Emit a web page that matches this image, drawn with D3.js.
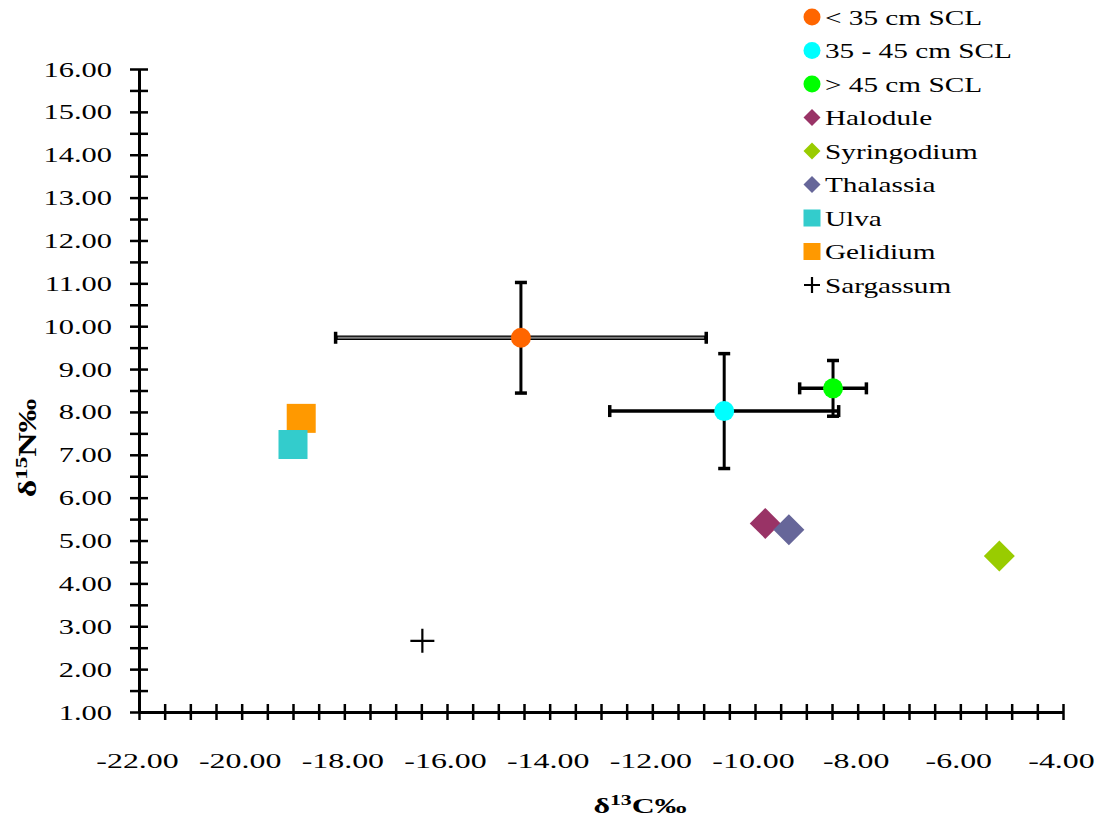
<!DOCTYPE html>
<html>
<head>
<meta charset="utf-8">
<script src="https://cdn.jsdelivr.net/npm/d3@7"></script>
<style>
  body { margin: 0; background: #fff; }
  svg { display: block; }
</style>
</head>
<body>
<svg id="chart" width="1101" height="824"></svg>
<script>
// Stable isotope values (δ13C, δ15N) for turtle size classes and food items
const seriesNames = ["< 35 cm SCL", "35 - 45 cm SCL", "> 45 cm SCL", "Halodule", "Syringodium", "Thalassia", "Ulva", "Gelidium", "Sargassum"];
const carbon   = [-14.56, -10.60, -8.48, -9.80, -5.24, -9.34, -19.00, -18.84, -16.48];
const nitrogen = [9.73, 8.02, 8.55, 5.40, 4.64, 5.25, 7.24, 7.85, 2.66];
const carbonSD   = [3.61, 2.23, 0.65, null, null, null, null, null, null];
const nitrogenSD = [1.29, 1.34, 0.65, null, null, null, null, null, null];
const markerShape = ["circle", "circle", "circle", "diamond", "diamond", "diamond", "square", "square", "plus"];
const markerColor = ["#FF6600", "#00FFFF", "#00FF00", "#993366", "#99CC00", "#666699", "#33CCCC", "#FF9900", "#000000"];
// Draw order: Gelidium sits under Ulva
const drawOrder = [0, 1, 2, 3, 5, 4, 7, 6, 8];

const xDomain = [-22, -4];
const yDomain = [1, 16];
const xLabelStep = 2;
const yLabelStep = 1;
const minorStep = 0.5;

const FONT = "'Liberation Serif', 'Times New Roman', Times, serif";
const svg = d3.select("#chart").attr("font-family", FONT);
const SX = 1.45; // horizontal stretch of the serif type

const x = d3.scaleLinear().domain(xDomain).range([139, 1063]);
const y = d3.scaleLinear().domain(yDomain).range([712, 69]);

const fmt = d => d.toFixed(2);

// X axis
const xTicks = d3.range(xDomain[0], xDomain[1] + 0.001, minorStep);
const xAxis = svg.append("g").attr("transform", `translate(0,${y(yDomain[0])})`)
  .call(d3.axisBottom(x).tickValues(xTicks).tickSizeOuter(0)
    .tickFormat(d => Math.abs(Math.round(d / xLabelStep) * xLabelStep - d) < 1e-9 ? fmt(d) : ""));
xAxis.attr("font-family", FONT);
xAxis.select(".domain").attr("stroke", "#000").attr("stroke-width", 3);
xAxis.selectAll(".tick line").attr("y1", -8).attr("y2", 8).attr("stroke", "#000").attr("stroke-width", 2.5);
xAxis.selectAll(".tick text").attr("y", 0).attr("dy", 0)
  .attr("transform", `translate(-2,56) scale(${SX},1)`)
  .style("font-family", FONT).style("font-size", "22px").attr("fill", "#000");

// Y axis
const yTicks = d3.range(yDomain[0], yDomain[1] + 0.001, minorStep);
const yAxis = svg.append("g").attr("transform", `translate(${x(xDomain[0])},0)`)
  .call(d3.axisLeft(y).tickValues(yTicks).tickSizeOuter(0)
    .tickFormat(d => Math.abs(Math.round(d / yLabelStep) * yLabelStep - d) < 1e-9 ? fmt(d) : ""));
yAxis.attr("font-family", FONT);
yAxis.select(".domain").attr("stroke", "#000").attr("stroke-width", 3);
yAxis.selectAll(".tick line").attr("x1", -9).attr("x2", 9).attr("stroke", "#000").attr("stroke-width", 2.5);
yAxis.selectAll(".tick text").attr("x", 0).attr("dy", 0)
  .attr("transform", `translate(-27,7) scale(${SX},1)`)
  .style("font-family", FONT).style("font-size", "21px").attr("fill", "#000");

// Axis titles
const xt = svg.append("text")
  .attr("transform", `translate(640,813) scale(${SX},1)`)
  .attr("text-anchor", "middle").style("font-family", FONT).style("font-size", "22px").style("font-weight", "bold");
xt.append("tspan").text("δ");
xt.append("tspan").attr("dy", -8).style("font-size", "15px").text("13");
xt.append("tspan").attr("dy", 8).text("C‰");

const yt = svg.append("text")
  .attr("transform", `translate(36,448) rotate(-90) scale(1.35,1)`)
  .attr("text-anchor", "middle").style("font-family", FONT).style("font-size", "25px").style("font-weight", "bold");
yt.append("tspan").text("δ");
yt.append("tspan").attr("dy", -9).style("font-size", "17px").text("15");
yt.append("tspan").attr("dy", 9).text("N‰");

// Error bars
const capHalf = 6;
const bars = svg.append("g");
seriesNames.forEach((name, i) => {
  if (carbonSD[i] == null) return;
  const cx = x(carbon[i]), cy = y(nitrogen[i]);
  const x0 = x(carbon[i] - carbonSD[i]), x1 = x(carbon[i] + carbonSD[i]);
  const y0 = y(nitrogen[i] + nitrogenSD[i]), y1 = y(nitrogen[i] - nitrogenSD[i]);
  // vertical
  bars.append("line").attr("x1", cx).attr("x2", cx).attr("y1", y0).attr("y2", y1)
    .attr("stroke", "#000").attr("stroke-width", 3);
  bars.append("line").attr("x1", cx - capHalf).attr("x2", cx + capHalf).attr("y1", y0).attr("y2", y0)
    .attr("stroke", "#000").attr("stroke-width", 3.5);
  bars.append("line").attr("x1", cx - capHalf).attr("x2", cx + capHalf).attr("y1", y1).attr("y2", y1)
    .attr("stroke", "#000").attr("stroke-width", 3.5);
  // horizontal
  bars.append("line").attr("x1", x0).attr("x2", x1).attr("y1", cy).attr("y2", cy)
    .attr("stroke", "#000").attr("stroke-width", i === 0 ? 4.5 : 3.5);
  if (i === 0) {
    bars.append("line").attr("x1", x0 + 2).attr("x2", x1 - 2).attr("y1", cy).attr("y2", cy)
      .attr("stroke", "#808080").attr("stroke-width", 2);
  }
  bars.append("line").attr("x1", x0).attr("x2", x0).attr("y1", cy - capHalf).attr("y2", cy + capHalf)
    .attr("stroke", "#000").attr("stroke-width", 3.5);
  bars.append("line").attr("x1", x1).attr("x2", x1).attr("y1", cy - capHalf).attr("y2", cy + capHalf)
    .attr("stroke", "#000").attr("stroke-width", 3.5);
});

// Marker drawing helper
function drawMarker(g, shape, color, cx, cy, s) {
  if (shape === "circle") {
    g.append("circle").attr("cx", cx).attr("cy", cy).attr("r", s.r).attr("fill", color);
  } else if (shape === "diamond") {
    const h = s.d;
    g.append("path").attr("d", `M${cx},${cy - h}L${cx + h},${cy}L${cx},${cy + h}L${cx - h},${cy}Z`).attr("fill", color);
  } else if (shape === "square") {
    g.append("rect").attr("x", cx - s.q / 2).attr("y", cy - s.q / 2).attr("width", s.q).attr("height", s.q).attr("fill", color);
  } else {
    const p = s.p;
    g.append("path").attr("d", `M${cx - p},${cy}H${cx + p}M${cx},${cy - p}V${cy + p}`)
      .attr("stroke", color).attr("stroke-width", 2.2).attr("fill", "none");
  }
}

// Points
const pts = svg.append("g");
drawOrder.forEach(i => {
  drawMarker(pts, markerShape[i], markerColor[i], x(carbon[i]), y(nitrogen[i]), { r: 10, d: 15.5, q: 29, p: 12 });
});

// Legend
const LEG_SX = 1.33;
const leg = svg.append("g");
seriesNames.forEach((name, i) => {
  const ry = 17 + i * 33.5;
  drawMarker(leg, markerShape[i], markerColor[i], 812, ry, { r: 8.5, d: 8.5, q: 17, p: 8 });
  leg.append("text").attr("transform", `translate(825,${ry + 7.5}) scale(${LEG_SX},1)`)
    .style("font-family", FONT).style("font-size", "22px").attr("fill", "#000").text(name);
});
</script>
</body>
</html>
